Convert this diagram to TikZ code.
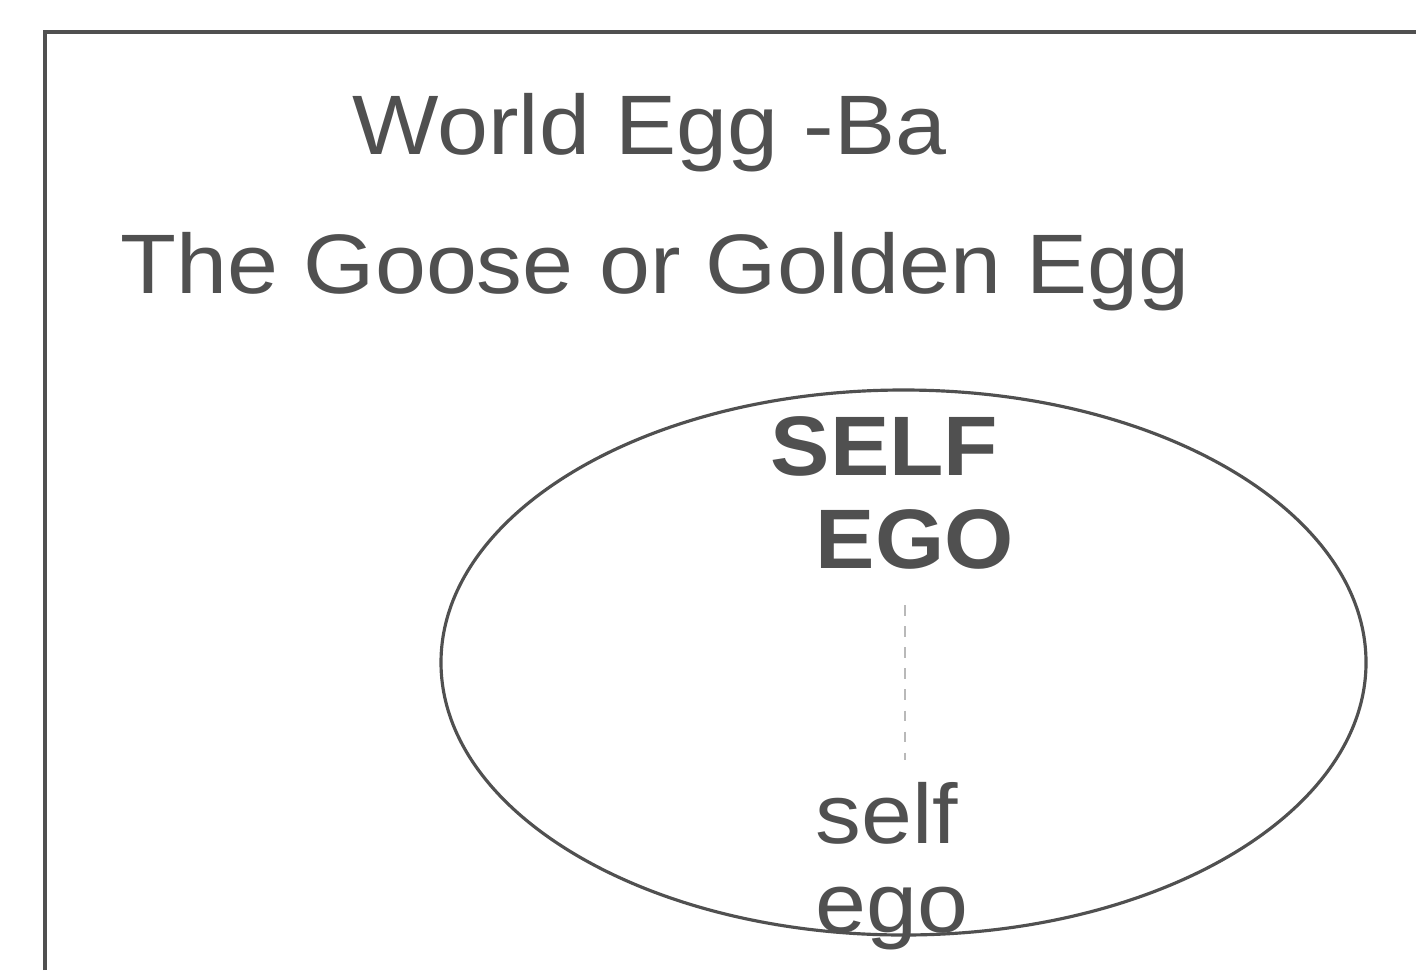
\documentclass[tikz,border=0pt]{standalone}
\usepackage{fontspec}
\setmainfont{Liberation Sans}[FakeStretch=1.085, BoldFeatures={FakeStretch=1.055}]
\usetikzlibrary{shapes.geometric}
\definecolor{ink}{HTML}{505050}
\begin{document}
\begin{tikzpicture}[x=0.01cm, y=-0.01cm,
    frame/.style={draw=ink, line width=1.3pt},
    label/.style={text=ink, font=\fontsize{24}{28}\selectfont, inner sep=0pt, anchor=base west},
    biglabel/.style={label, font=\fontsize{24}{28}\selectfont\bfseries}]
    \useasboundingbox (0,0) rectangle (1416,970);

    % Marco (solo dos lados visibles)
    \draw[frame] (45,970) -- (45,32) -- (1416,32);

    % Titulos
    \node[label] (world) at (352,155) {World Egg -Ba};
    \node[label] (goose) at (120,293) {The Goose or Golden Egg};

    % Huevo
    \coordinate (egg) at (903.5,662.5);
    \draw[draw=ink, line width=0.9pt] (egg) ellipse (462.5 and 272.5);

    % Eje punteado
    \coordinate (top) at (905,605);
    \coordinate (bot) at (905,760);
    \draw[ink!40, line width=0.5pt, dashed] (top) -- (bot);

    % Textos dentro
    \node[biglabel] (SELF) at (770,475) {SELF};
    \node[biglabel] (EGO)  at (815,568) {EGO};
    \node[label] (self) at (815,843) {self};
    \node[label] (ego)  at (815,932) {ego};
\end{tikzpicture}
\end{document}
